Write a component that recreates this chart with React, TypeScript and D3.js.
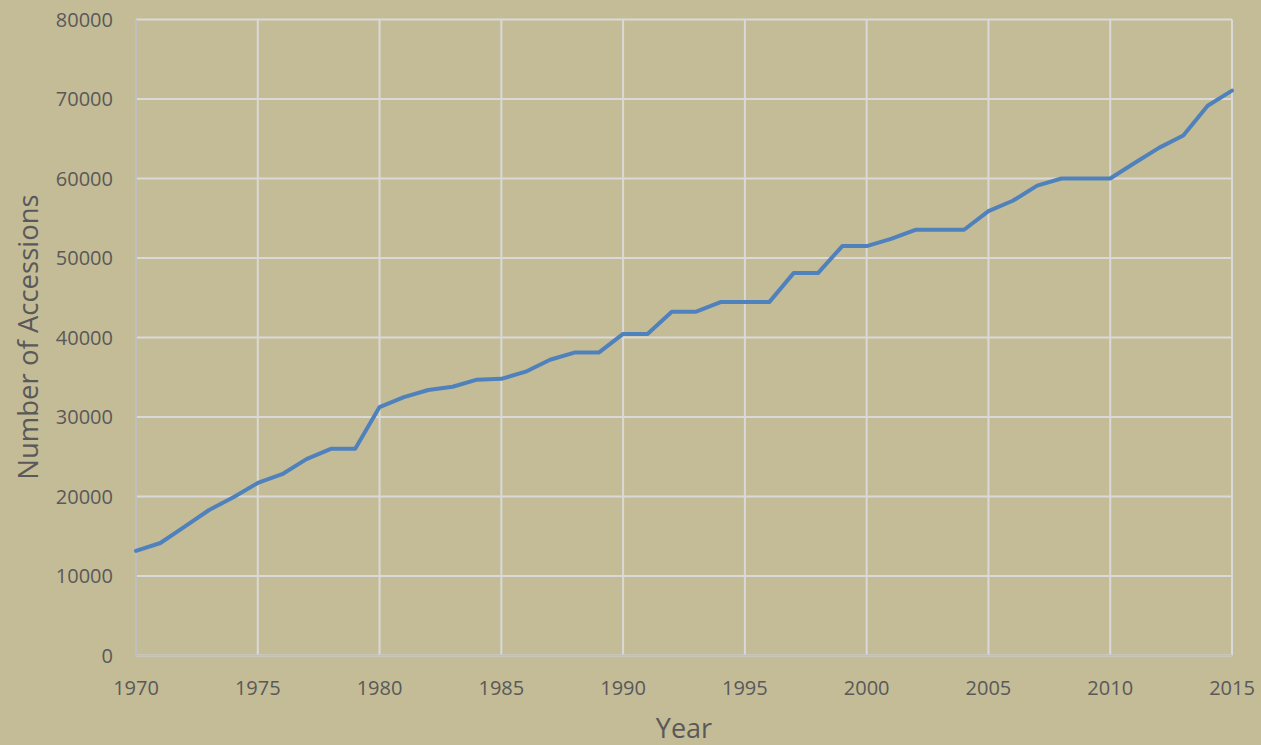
import React from "react";
import * as d3 from "d3";

const years: number[] = [
  1970, 1971, 1972, 1973, 1974, 1975, 1976, 1977, 1978, 1979,
  1980, 1981, 1982, 1983, 1984, 1985, 1986, 1987, 1988, 1989,
  1990, 1991, 1992, 1993, 1994, 1995, 1996, 1997, 1998, 1999,
  2000, 2001, 2002, 2003, 2004, 2005, 2006, 2007, 2008, 2009,
  2010, 2011, 2012, 2013, 2014, 2015,
];
const accessions: number[] = [
  13150, 14150, 16200, 18300, 19900, 21700, 22800, 24700, 26000, 26000,
  31250, 32500, 33400, 33800, 34700, 34800, 35700, 37200, 38100, 38100,
  40450, 40450, 43250, 43250, 44450, 44450, 44450, 48100, 48100, 51500,
  51500, 52400, 53550, 53550, 53550, 55900, 57200, 59100, 60000, 60000,
  60000, 61950, 63850, 65400, 69150, 71050,
];
const xTicks: number[] = [1970, 1975, 1980, 1985, 1990, 1995, 2000, 2005, 2010, 2015];
const yTicks: number[] = [0, 10000, 20000, 30000, 40000, 50000, 60000, 70000, 80000];

const W = 1261;
const H = 745;
const M = { left: 136, right: 1232, top: 19.5, bottom: 655.5 };

export default function App() {
  const x = d3.scaleLinear().domain([1970, 2015]).range([M.left, M.right]);
  const y = d3.scaleLinear().domain([0, 80000]).range([M.bottom, M.top]);
  const line = d3
    .line<number>()
    .x((_, i) => x(years[i]))
    .y((d) => y(d));
  const font = "'Open Sans', sans-serif";
  const textColor = "#595959";
  return (
    <svg
      width={W}
      height={H}
      style={{ position: "absolute", left: 0, top: 0, display: "block" }}
    >
      <rect x={0} y={0} width={W} height={H} fill="#c4bc96" />
      {yTicks.map((t) => (
        <line
          key={"gy" + t}
          x1={M.left}
          x2={M.right}
          y1={y(t)}
          y2={y(t)}
          stroke="#d9d9d9"
          strokeWidth={2}
        />
      ))}
      {xTicks.map((t) => (
        <line
          key={"gx" + t}
          x1={x(t)}
          x2={x(t)}
          y1={M.top}
          y2={M.bottom}
          stroke="#d9d9d9"
          strokeWidth={2}
        />
      ))}
      <line x1={M.left} x2={M.left} y1={M.top} y2={M.bottom} stroke="#bfbfbf" strokeWidth={2} />
      <line x1={M.left} x2={M.right} y1={M.bottom} y2={M.bottom} stroke="#bfbfbf" strokeWidth={2} />
      <path
        d={line(accessions) || ""}
        fill="none"
        stroke="#4f81bd"
        strokeWidth={4}
        strokeLinejoin="round"
        strokeLinecap="round"
      />
      {yTicks.map((t) => (
        <text
          key={"ty" + t}
          x={113}
          y={y(t)}
          dy="0.35em"
          textAnchor="end"
          fontFamily={font}
          fontSize={20}
          fill={textColor}
        >
          {t}
        </text>
      ))}
      {xTicks.map((t) => (
        <text
          key={"tx" + t}
          x={x(t)}
          y={688}
          dy="0.35em"
          textAnchor="middle"
          fontFamily={font}
          fontSize={20}
          fill={textColor}
        >
          {t}
        </text>
      ))}
      <text
        x={684}
        y={729}
        dy="0.35em"
        textAnchor="middle"
        fontFamily={font}
        fontSize={27}
        fill={textColor}
      >
        Year
      </text>
      <text
        transform={`translate(28, 337) rotate(-90)`}
        dy="0.35em"
        textAnchor="middle"
        fontFamily={font}
        fontSize={27.5}
        fill={textColor}
      >
        Number of Accessions
      </text>
    </svg>
  );
}
